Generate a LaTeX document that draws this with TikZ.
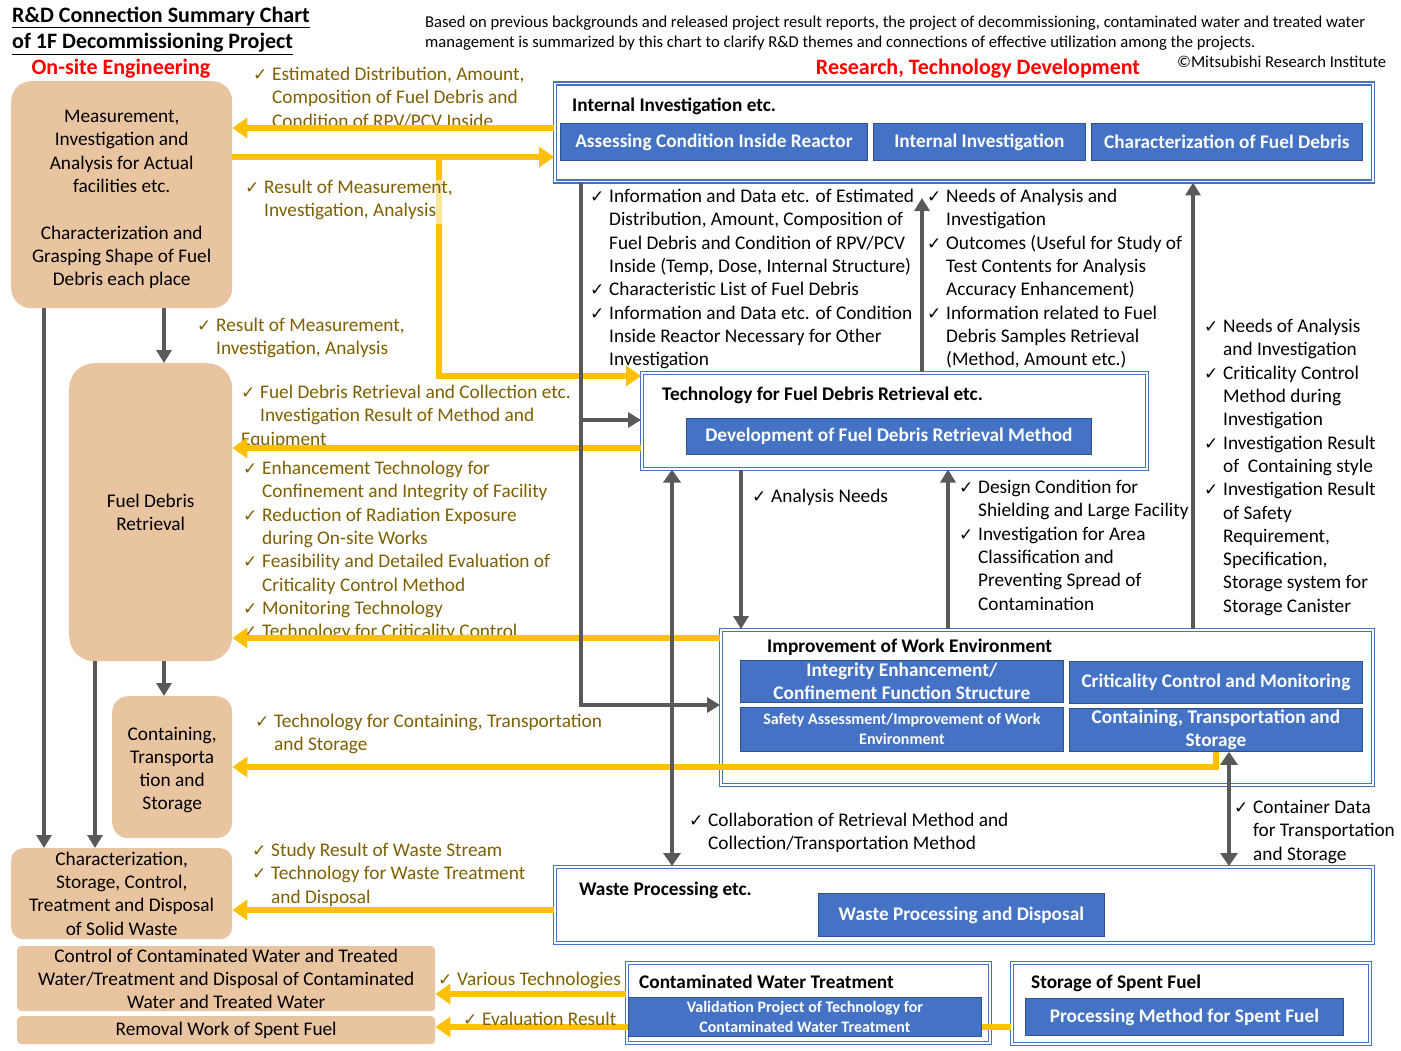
\documentclass[tikz,border=0pt]{standalone}
\usepackage{fontspec}
\setmainfont{Carlito}
\newfontfamily\djv{DejaVu Sans}
\usetikzlibrary{arrows.meta}
\definecolor{peach}{RGB}{232,196,160}
\definecolor{bl}{RGB}{68,114,196}
\definecolor{bldk}{RGB}{47,82,143}
\definecolor{ylw}{RGB}{255,192,0}
\definecolor{gry}{RGB}{89,89,89}
\definecolor{gold}{RGB}{127,96,0}
\newcommand\fs{\fontsize{19.3}{23.3}\selectfont}
\newcommand\fsm{\fontsize{16}{20}\selectfont}
\newcommand\ck{\llap{\makebox[19pt][l]{\djv\fontsize{17}{17}\selectfont ✓}}}
\tikzset{
  pbox/.style={fill=peach, inner sep=0pt, align=center, font=\fs, anchor=north west},
  frm/.style={draw=bl, double=white, double distance=1.5pt, line width=1.5pt, fill=white, anchor=north west, inner sep=0pt},
  bbox/.style={fill=bl, draw=bldk, line width=0.8pt, text=white, font=\fs\bfseries, align=center, anchor=north west, inner sep=0pt},
  ttl/.style={anchor=base west, font=\fs\bfseries, inner sep=0pt},
  ktxt/.style={anchor=north west, inner sep=0pt, align=left, font=\fs, yshift=-3pt, execute at begin node=\strut},
  gtxt/.style={ktxt, text=gold},
  yarr/.style={draw=ylw, line width=5.5pt, -{Triangle[length=15pt,width=20pt]}},
  garr/.style={draw=gry, line width=4.5pt, -{Triangle[length=13pt,width=15pt]}},
  gdbl/.style={draw=gry, line width=4.5pt, {Triangle[length=13pt,width=17pt]}-{Triangle[length=13pt,width=17pt]}},
}
\begin{document}
\begin{tikzpicture}[x=1pt,y=-1pt]
\fill[white] (0,0) rectangle (1401,1051);
\useasboundingbox (0,0) rectangle (1401,1051);
% headings
\node[anchor=north west, inner sep=0pt, align=left, font=\fontsize{22}{26}\selectfont\bfseries, execute at begin node=\strut] (title) at (12,7)
  {\underline{R\&D Connection Summary Chart}\\\underline{of 1F Decommissioning Project}};
\node[anchor=base, font=\fontsize{22}{26}\selectfont\bfseries, text=red, inner sep=0pt] (onsite) at (121,75) {On-site Engineering};
\node[anchor=base, font=\fontsize{22}{26}\selectfont\bfseries, text=red, inner sep=0pt] (rtd) at (978,75) {Research, Technology Development};
\node[anchor=north west, inner sep=0pt, align=left, font=\fontsize{16.6}{20}\selectfont, execute at begin node=\strut] (note) at (425,16)
  {Based on previous backgrounds and released project result reports, the project of decommissioning, contaminated water and treated water\\
   management is summarized by this chart to clarify R\&D themes and connections of effective utilization among the projects.};
\node[anchor=base west, inner sep=0pt, font=\fontsize{16.6}{20}\selectfont] (copy) at (1177,68) {©Mitsubishi Research Institute};

% texts on the connectors
\node[gtxt] (t1) at (272,64) {\ck Estimated Distribution, Amount,\\Composition of Fuel Debris and\\Condition of RPV/PCV Inside};
\node[gtxt] (t3) at (216,315) {\ck Result of Measurement,\\Investigation, Analysis};
\node[gtxt] (t4) at (260,382) {\ck Fuel Debris Retrieval and Collection etc.\\Investigation Result of Method and\\\hspace*{-19pt}Equipment};
\node[gtxt] (t5) at (262,458) {\ck Enhancement Technology for\\Confinement and Integrity of Facility\\\ck Reduction of Radiation Exposure\\during On-site Works\\\ck Feasibility and Detailed Evaluation of\\Criticality Control Method\\\ck Monitoring Technology\\\ck Technology for Criticality Control};
\node[gtxt] (t6) at (274,711) {\ck Technology for Containing, Transportation\\and Storage};
\node[gtxt] (t7) at (271,840) {\ck Study Result of Waste Stream\\\ck Technology for Waste Treatment\\and Disposal};
\node[ktxt] (k1) at (609,186) {\ck Information and Data etc. of Estimated\\Distribution, Amount, Composition of\\Fuel Debris and Condition of RPV/PCV\\Inside (Temp, Dose, Internal Structure)\\\ck Characteristic List of Fuel Debris\\\ck Information and Data etc. of Condition\\Inside Reactor Necessary for Other\\Investigation};
\node[ktxt] (k2) at (946,186) {\ck Needs of Analysis and\\Investigation\\\ck Outcomes (Useful for Study of\\Test Contents for Analysis\\Accuracy Enhancement)\\\ck Information related to Fuel\\Debris Samples Retrieval\\(Method, Amount etc.)};
\node[ktxt] (k3) at (1223,316) {\ck Needs of Analysis\\and Investigation\\\ck Criticality Control\\Method during\\Investigation\\\ck Investigation Result\\of \ Containing style\\\ck Investigation Result\\of Safety\\Requirement,\\Specification,\\Storage system for\\Storage Canister};
\node[ktxt] (k4) at (771,483) {\ck Analysis Needs};
\node[ktxt] (k5) at (978,477) {\ck Design Condition for\\Shielding and Large Facility\\\ck Investigation for Area\\Classification and\\Preventing Spread of\\Contamination};
\node[ktxt] (k6) at (708,810) {\ck Collaboration of Retrieval Method and\\Collection/Transportation Method};
\node[ktxt] (k7) at (1253,797) {\ck Container Data\\for Transportation\\and Storage};

% on-site engineering
\node[pbox, rounded corners=20pt, minimum width=221pt, minimum height=227pt] (meas) at (11,81)
  {\rule{0pt}{22pt}Measurement,\\Investigation and\\Analysis for Actual\\facilities etc.\\[23.3pt]Characterization and\\Grasping Shape of Fuel\\Debris each place};
\node[pbox, rounded corners=25pt, minimum width=163pt, minimum height=298pt] (fdr) at (69,363) {Fuel Debris\\Retrieval};
\node[pbox, rounded corners=16pt, minimum width=120pt, minimum height=142pt] (cont) at (112,696) {\rule{0pt}{19pt}Containing,\\Transporta\\tion and\\Storage};
\node[pbox, rounded corners=12pt, minimum width=221pt, minimum height=91pt] (solid) at (11,848) {Characterization,\\Storage, Control,\\Treatment and Disposal\\of Solid Waste};
\node[pbox, rounded corners=4pt, minimum width=418pt, minimum height=65pt] (water) at (17,946) {Control of Contaminated Water and Treated\\Water/Treatment and Disposal of Contaminated\\Water and Treated Water};
\node[pbox, rounded corners=4pt, minimum width=418pt, minimum height=28pt] (spent) at (17,1016) {Removal Work of Spent Fuel};

% research frames
\node[frm, minimum width=818pt, minimum height=98pt] (inv) at (554,83) {};
\node[frm, minimum width=505pt, minimum height=96pt] (ret) at (641,372) {};
\node[frm, minimum width=652pt, minimum height=155pt] (env) at (720,629) {};
\node[frm, minimum width=818pt, minimum height=76pt] (wst) at (554,866) {};
\node[frm, minimum width=363pt, minimum height=80pt] (cwt) at (626,962) {};
\node[frm, minimum width=358pt, minimum height=81pt] (ssf) at (1011,962) {};
\node[ttl] (invt) at (572,112) {Internal Investigation etc.};
\node[ttl] (rett) at (662,400) {Technology for Fuel Debris Retrieval etc.};
\node[ttl] (envt) at (767,652) {Improvement of Work Environment};
\node[ttl] (wstt) at (579,895) {Waste Processing etc.};
\node[ttl] (cwtt) at (639,988) {Contaminated Water Treatment};
\node[ttl] (ssft) at (1031,988) {Storage of Spent Fuel};

% yellow connectors
\coordinate (ysplit) at (439,157);
\draw[yarr] (inv.west |- 0,128) -- (meas.east |- 0,128);
\draw[yarr] (meas.east |- 0,157) -- (inv.west |- 0,157);
\draw[yarr] (ysplit) |- (ret.west |- 0,376);
\draw[yarr] (ret.west |- 0,448) -- (fdr.east |- 0,448);
\draw[yarr] (env.west |- 0,638) -- (fdr.east |- 0,638);
\draw[yarr] (wst.west |- 0,910) -- (solid.east |- 0,910);
\draw[yarr] (cwt.west |- 0,994) -- (water.east |- 0,994);
\draw[yarr] (ssf.west |- 0,1027) -- (spent.east |- 0,1027);

% blue themes
\node[bbox, minimum width=307pt, minimum height=37pt] (assess) at (560,123) {Assessing Condition Inside Reactor};
\node[bbox, minimum width=212pt, minimum height=37pt] (intinv) at (873,123) {Internal Investigation};
\node[bbox, minimum width=271pt, minimum height=37pt] (charfd) at (1091,123) {Characterization of Fuel Debris};
\node[bbox, minimum width=405pt, minimum height=36pt] (devm) at (686,418) {Development of Fuel Debris Retrieval Method};
\node[bbox, minimum width=323pt, minimum height=42pt] (integ) at (740,660) {Integrity Enhancement/\\Confinement Function Structure};
\node[bbox, minimum width=293pt, minimum height=42pt] (crit) at (1069,661) {Criticality Control and Monitoring};
\node[bbox, minimum width=323pt, minimum height=44pt, font=\fsm\bfseries] (safe) at (740,707) {Safety Assessment/Improvement of Work\\Environment};
\node[bbox, minimum width=293pt, minimum height=43pt] (cts) at (1069,708) {Containing, Transportation and\\Storage};
\node[bbox, minimum width=286pt, minimum height=43pt] (wpd) at (818,893) {Waste Processing and Disposal};
\node[bbox, minimum width=353pt, minimum height=39pt, font=\fsm\bfseries] (valid) at (628,997) {Validation Project of Technology for\\Contaminated Water Treatment};
\node[bbox, minimum width=318pt, minimum height=37pt] (pmsf) at (1025,998) {Processing Method for Spent Fuel};
\draw[yarr] (cts.south) |- (cont.east |- 0,767);

% gray connectors
\coordinate (gsplit) at (581,420);
\coordinate (gtip) at (922,198);
\draw[garr] (meas.south -| 164,0) -- (fdr.north -| 164,0);
\draw[garr] (meas.south -| 44,0) -- (solid.north -| 44,0);
\draw[garr] (fdr.south -| 95,0) -- (solid.north -| 95,0);
\draw[garr] (fdr.south -| 164,0) -- (cont.north -| 164,0);
\draw[garr] (inv.south -| 581,0) |- (env.west |- 0,705);
\draw[garr] (gsplit) -- (ret.west |- 0,420);
\draw[garr] (ret.north -| gtip) -- (gtip);
\draw[garr] (env.north -| 1193,0) -- (inv.south -| 1193,0);
\draw[garr] (ret.south -| 741,0) -- (env.north -| 741,0);
\draw[garr] (env.north -| 948,0) -- (ret.south -| 948,0);
\draw[gdbl] (ret.south -| 672,0) -- (wst.north -| 672,0);
\draw[gdbl] (cts.south -| 1229,0) -- (wst.north -| 1229,0);

\node[gtxt, fill=white, fill opacity=0.6, text opacity=1] (t2) at (264,177) {\ck Result of Measurement,\\Investigation, Analysis};
\node[gtxt] (t8) at (457,966) {\ck Various Technologies};
\node[gtxt] (t9) at (482,1006) {\ck Evaluation Result};
\end{tikzpicture}
\end{document}
